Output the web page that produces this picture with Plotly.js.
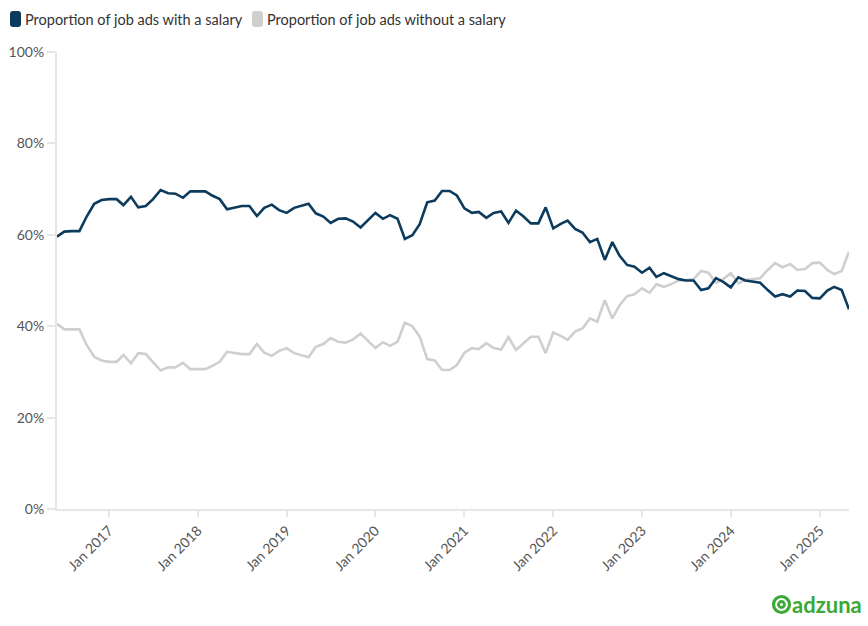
<!DOCTYPE html>
<html>
<head>
<meta charset="utf-8">
<script src="https://cdn.plot.ly/plotly-3.0.1.min.js"></script>
<style>html,body{margin:0;padding:0;background:#fff;}#chart{width:868px;height:626px;}</style>
</head>
<body>
<div id="chart"></div>
<script>
// Months (Jun 2016 – May 2025)
const months = [
  "2016-06","2016-07","2016-08","2016-09","2016-10","2016-11","2016-12",
  "2017-01","2017-02","2017-03","2017-04","2017-05","2017-06","2017-07","2017-08","2017-09","2017-10","2017-11","2017-12",
  "2018-01","2018-02","2018-03","2018-04","2018-05","2018-06","2018-07","2018-08","2018-09","2018-10","2018-11","2018-12",
  "2019-01","2019-02","2019-03","2019-04","2019-05","2019-06","2019-07","2019-08","2019-09","2019-10","2019-11","2019-12",
  "2020-01","2020-02","2020-03","2020-04","2020-05","2020-06","2020-07","2020-08","2020-09","2020-10","2020-11","2020-12",
  "2021-01","2021-02","2021-03","2021-04","2021-05","2021-06","2021-07","2021-08","2021-09","2021-10","2021-11","2021-12",
  "2022-01","2022-02","2022-03","2022-04","2022-05","2022-06","2022-07","2022-08","2022-09","2022-10","2022-11","2022-12",
  "2023-01","2023-02","2023-03","2023-04","2023-05","2023-06","2023-07","2023-08","2023-09","2023-10","2023-11","2023-12",
  "2024-01","2024-02","2024-03","2024-04","2024-05","2024-06","2024-07","2024-08","2024-09","2024-10","2024-11","2024-12",
  "2025-01","2025-02","2025-03","2025-04","2025-05"
];

const withSalary = [
  59.6, 60.7, 60.8, 60.8, 64.0, 66.8, 67.6,
  67.8, 67.8, 66.5, 68.3, 66.0, 66.3, 67.8, 69.8, 69.1, 69.0, 68.1, 69.5,
  69.5, 69.5, 68.6, 67.8, 65.6, 66.0, 66.3, 66.3, 64.1, 65.9, 66.6, 65.4,
  64.8, 65.9, 66.4, 66.8, 64.7, 64.0, 62.6, 63.5, 63.6, 62.9, 61.6, 63.2,
  64.8, 63.5, 64.3, 63.5, 59.1, 59.9, 62.3, 67.1, 67.5, 69.6, 69.6, 68.6,
  65.8, 64.8, 65.0, 63.7, 64.8, 65.1, 62.6, 65.3, 64.0, 62.5, 62.5, 66.0,
  61.4, 62.4, 63.1, 61.3, 60.5, 58.4, 59.1, 54.5, 58.4, 55.4, 53.4, 53.0,
  51.7, 52.8, 50.8, 51.6, 51.0, 50.3, 50.0, 50.0, 47.9, 48.3, 50.5, 49.7,
  48.5, 50.7, 50.0, 49.7, 49.5, 47.9, 46.5, 47.0, 46.5, 47.8, 47.7, 46.2,
  46.1, 47.8, 48.6, 47.9, 43.7
];

const withoutSalary = [
  40.5, 39.3, 39.3, 39.3, 35.9, 33.3, 32.5,
  32.2, 32.2, 33.7, 31.9, 34.1, 33.9, 32.2, 30.3, 31.0, 31.0, 32.0, 30.6,
  30.6, 30.6, 31.3, 32.2, 34.4, 34.1, 33.9, 33.9, 36.1, 34.2, 33.5, 34.6,
  35.2, 34.1, 33.7, 33.2, 35.5, 36.1, 37.4, 36.6, 36.4, 37.1, 38.4, 36.8,
  35.2, 36.5, 35.7, 36.6, 40.8, 40.0, 37.7, 32.8, 32.5, 30.4, 30.4, 31.5,
  34.2, 35.2, 35.0, 36.3, 35.2, 34.9, 37.6, 34.8, 36.3, 37.7, 37.7, 34.1,
  38.6, 37.9, 37.0, 38.8, 39.5, 41.7, 41.0, 45.7, 41.7, 44.6, 46.6, 47.0,
  48.3, 47.3, 49.2, 48.6, 49.2, 50.0, 50.1, 50.3, 52.1, 51.7, 49.5, 50.3,
  51.6, 49.4, 50.1, 50.3, 50.5, 52.3, 53.8, 52.9, 53.6, 52.3, 52.5, 53.8,
  53.9, 52.3, 51.4, 52.1, 56.3
];

const seriesNames = ["Proportion of job ads with a salary", "Proportion of job ads without a salary"];
const xTickVals = ["2017-01-01","2018-01-01","2019-01-01","2020-01-01","2021-01-01","2022-01-01","2023-01-01","2024-01-01","2025-01-01"];
const xTickText = ["Jan 2017","Jan 2018","Jan 2019","Jan 2020","Jan 2021","Jan 2022","Jan 2023","Jan 2024","Jan 2025"];
const yTickVals = [0, 20, 40, 60, 80, 100];
const yTickText = ["0%", "20%", "40%", "60%", "80%", "100%"];

const DARK = "#0c3b5d", LIGHT = "#cfcfcf", GREEN = "#3aa935";
const FONT = "Lato, 'Open Sans', sans-serif";

// layout geometry (pixels)
const FW = 868, FH = 626, ML = 57, MR = 19, MT = 52, MB = 117;
const PW = FW - ML - MR, PH = FH - MT - MB;
const px = x => (x - ML) / PW;
const py = y => (FH - MB - y) / PH;

function roundRect(x0, y0, x1, y1, r) {
  const P = (x, y) => px(x) + "," + py(y);
  return "M" + P(x0 + r, y0) + " L" + P(x1 - r, y0) + " Q" + P(x1, y0) + " " + P(x1, y0 + r) +
         " L" + P(x1, y1 - r) + " Q" + P(x1, y1) + " " + P(x1 - r, y1) +
         " L" + P(x0 + r, y1) + " Q" + P(x0, y1) + " " + P(x0, y1 - r) +
         " L" + P(x0, y0 + r) + " Q" + P(x0, y0) + " " + P(x0 + r, y0) + " Z";
}

const traces = [
  {x: months, y: withoutSalary, type: "scatter", mode: "lines", name: seriesNames[1],
   line: {color: LIGHT, width: 2.6}, showlegend: false},
  {x: months, y: withSalary, type: "scatter", mode: "lines", name: seriesNames[0],
   line: {color: DARK, width: 2.6}, showlegend: false}
];

const legendItems = [
  {sx: 10, tx: 25, color: DARK, text: seriesNames[0]},
  {sx: 252, tx: 267, color: LIGHT, text: seriesNames[1]}
];

const shapes = legendItems.map(it => ({
  type: "path", xref: "paper", yref: "paper",
  path: roundRect(it.sx, 11, it.sx + 11, 27, 3),
  fillcolor: it.color, line: {width: 0}
}));
// adzuna logo mark
shapes.push({type: "circle", xref: "paper", yref: "paper",
  x0: px(773.5), x1: px(789.5), y0: py(612.5), y1: py(596.5), line: {color: GREEN, width: 3.2}});
shapes.push({type: "circle", xref: "paper", yref: "paper",
  x0: px(778.5), x1: px(784.5), y0: py(607.5), y1: py(601.5), line: {color: GREEN, width: 2.8}});

const annotations = legendItems.map(it => ({
  xref: "paper", yref: "paper", x: px(it.tx - 2), y: py(19.5), xanchor: "left", yanchor: "middle",
  text: it.text, showarrow: false, font: {family: FONT, size: 14.5, color: "#333333"}
}));
annotations.push({xref: "paper", yref: "paper", x: px(790), y: py(604), xanchor: "left", yanchor: "middle",
  text: "<b>adzuna</b>", showarrow: false, font: {family: FONT, size: 22, color: GREEN}});

const layout = {
  width: FW, height: FH,
  margin: {l: ML, r: MR, t: MT, b: MB, pad: 0},
  paper_bgcolor: "#ffffff", plot_bgcolor: "#ffffff",
  font: {family: FONT, size: 14, color: "#666666"},
  showlegend: false,
  xaxis: {
    type: "date", range: ["2016-06-01", "2025-05-01"],
    tickvals: xTickVals, ticktext: xTickText, tickangle: -45,
    showgrid: false, zeroline: false, showline: true, linecolor: "#e6e6e6", linewidth: 2,
    ticks: "outside", ticklen: 6, tickcolor: "#e6e6e6", tickwidth: 2,
    tickfont: {family: FONT, size: 14, color: "#555555"}
  },
  yaxis: {
    range: [0, 100], tickvals: yTickVals, ticktext: yTickText,
    showgrid: false, zeroline: false, showline: true, linecolor: "#e6e6e6", linewidth: 2,
    ticks: "outside", ticklen: 8, tickcolor: "#e6e6e6", tickwidth: 2,
    tickfont: {family: FONT, size: 14, color: "#555555"}
  },
  shapes: shapes,
  annotations: annotations
};

Plotly.newPlot("chart", traces, layout, {displayModeBar: false, staticPlot: true});
</script>
</body>
</html>
